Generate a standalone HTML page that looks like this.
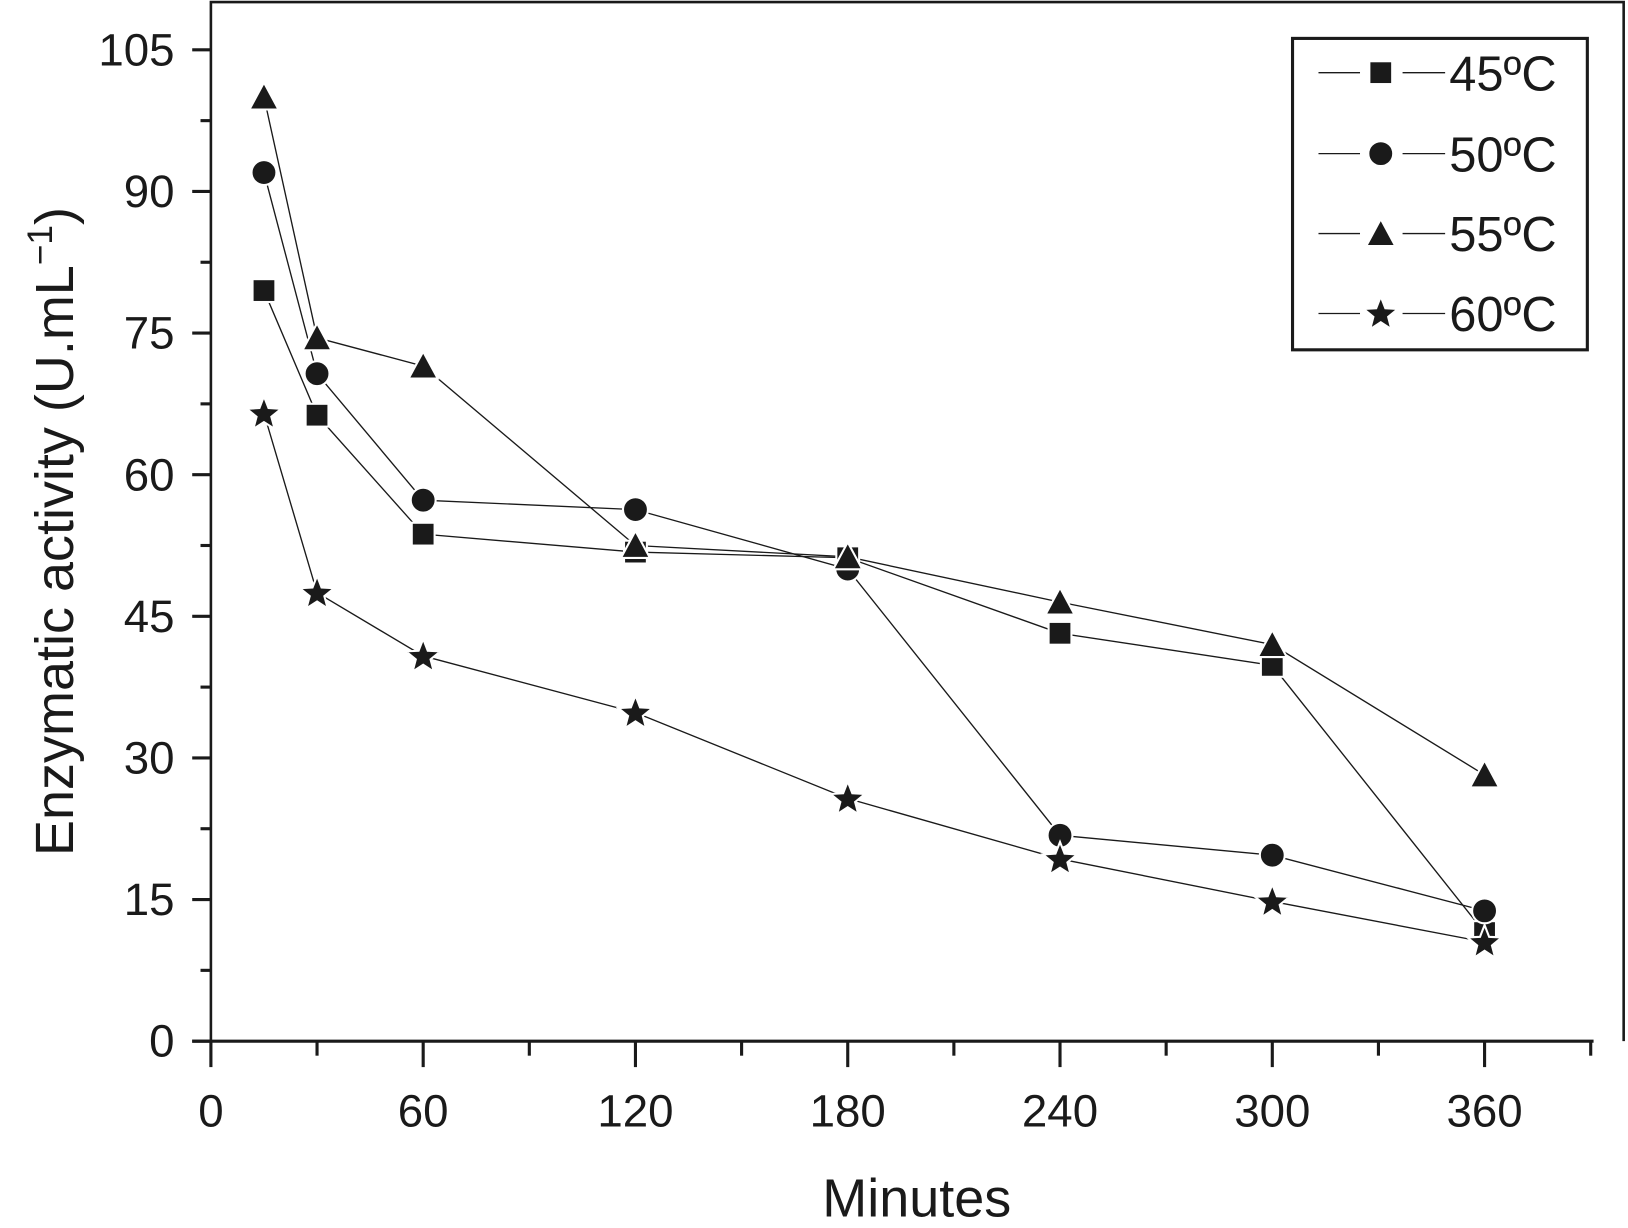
<!DOCTYPE html>
<html><head><meta charset="utf-8"><style>
html,body{margin:0;padding:0;background:#fff}
svg{display:block}
text{font-family:"Liberation Sans",sans-serif;fill:#1a1a1a}
</style></head><body>
<svg id="chart" width="1628" height="1228" viewBox="0 0 1568 1183" xmlns="http://www.w3.org/2000/svg">
<g id="axes"></g>
<g id="series"></g>
<g id="legend"></g>
</svg>
<script>
const minutes=[15,30,60,120,180,240,300,360];
const s45=[79.5,66.3,53.7,51.8,51.2,43.2,39.8,11.5];
const s50=[92,70.7,57.3,56.3,50,21.8,19.7,13.8];
const s55=[100,74.5,71.5,52.5,51.3,46.5,42,28.2];
const s60=[66.5,47.5,40.8,34.8,25.7,19.3,14.8,10.5];
const seriesNames=["45ºC","50ºC","55ºC","60ºC"];
const markerTypes=["square","circle","triangle","star"];
const xTicks=[0,60,120,180,240,300,360];
const yTicks=[0,15,30,45,60,75,90,105];

const NS="http://www.w3.org/2000/svg";
const X0=203,XPX=(1430-203)/360,Y0=1003,YPX=(1003-48)/105;
const xs=v=>X0+v*XPX, ys=v=>Y0-v*YPX;
function mk(tag,at,parent){const e=document.createElementNS(NS,tag);for(const k in at)e.setAttribute(k,at[k]);parent.appendChild(e);return e;}
const axes=document.getElementById('axes'),series=document.getElementById('series'),legend=document.getElementById('legend');

let fr=mk('path',{d:`M203,1003 V2 H1564 V1003`,fill:'none',stroke:'#1a1a1a','stroke-width':2.5},axes);

let xa=mk('line',{x1:185,y1:Y0,x2:1535,y2:Y0,stroke:'#1a1a1a','stroke-width':3},axes);

for(let m=0;m<=390;m+=30){
  const major=m%60===0;
  let t=mk('line',{x1:xs(m),y1:Y0,x2:xs(m),y2:Y0+(major?25:14),stroke:'#1a1a1a','stroke-width':3},axes);
  
}
xTicks.forEach(v=>{let t=mk('text',{x:xs(v),y:1085,'text-anchor':'middle','font-size':44},axes);t.textContent=v;
  });
for(let v=0;v<=105;v+=7.5){
  const major=v%15===0;
  let t=mk('line',{x1:X0-(major?18:10),y1:ys(v),x2:X0,y2:ys(v),stroke:'#1a1a1a','stroke-width':3},axes);
  
}
yTicks.forEach(v=>{let t=mk('text',{x:168,y:ys(v)+15,'text-anchor':'end','font-size':44},axes);t.textContent=v;
  });
let xt=mk('text',{x:883,y:1172,'text-anchor':'middle','font-size':52},axes);xt.textContent='Minutes';

let yt=mk('text',{x:0,y:0,'text-anchor':'middle','font-size':52,transform:'translate(70,512) rotate(-90)'},axes);
yt.innerHTML='Enzymatic activity (U.mL<tspan dy="-20" font-size="34">−1</tspan><tspan dy="20">)</tspan>';


function marker(type,cx,cy,parent,s){
  s=s||12;let e;
  if(type==='square')e=mk('rect',{x:cx-s+1,y:cy-s+1,width:2*s-2,height:2*s-2},parent);
  else if(type==='circle')e=mk('circle',{cx:cx,cy:cy,r:s},parent);
  else if(type==='triangle')e=mk('polygon',{points:`${cx},${cy-s-2} ${cx+s+2},${cy+s} ${cx-s-2},${cy+s}`},parent);
  else{let p=[];for(let i=0;i<10;i++){const r=i%2?s*0.62:s*1.45,a=-Math.PI/2+i*Math.PI/5;p.push((cx+r*Math.cos(a)).toFixed(1)+','+(cy+r*Math.sin(a)+1).toFixed(1));}
    e=mk('polygon',{points:p.join(' ')},parent);}
  e.setAttribute('fill','#1a1a1a');e.setAttribute('stroke','#fff');e.setAttribute('stroke-width','2');
  return e;
}
const all=[s45,s50,s55,s60];
all.forEach((vals,i)=>{
  const g=mk('g',{},series);
  
  
  const ln=mk('polyline',{points:vals.map((v,j)=>xs(minutes[j])+','+ys(v)).join(' '),fill:'none',stroke:'#1a1a1a','stroke-width':1.3},g);
  
});
all.forEach((vals,i)=>{
  vals.forEach((v,j)=>{const m=marker(markerTypes[i],xs(minutes[j]),ys(v),series);
    });
});
let lb=mk('rect',{x:1245,y:37,width:284,height:300,fill:'#fff',stroke:'#1a1a1a','stroke-width':3},legend);

const rows=[70,148,225,302];
seriesNames.forEach((n,i)=>{
  const g=mk('g',{},legend);
  
  mk('line',{x1:1270,y1:rows[i],x2:1310,y2:rows[i],stroke:'#1a1a1a','stroke-width':1.3},g);
  mk('line',{x1:1351,y1:rows[i],x2:1392,y2:rows[i],stroke:'#1a1a1a','stroke-width':1.3},g);
  marker(markerTypes[i],1330,rows[i],g,12);
  const t=mk('text',{x:1396,y:rows[i]+17,'font-size':47},g);t.textContent=n;
});
</script>
</body></html>
